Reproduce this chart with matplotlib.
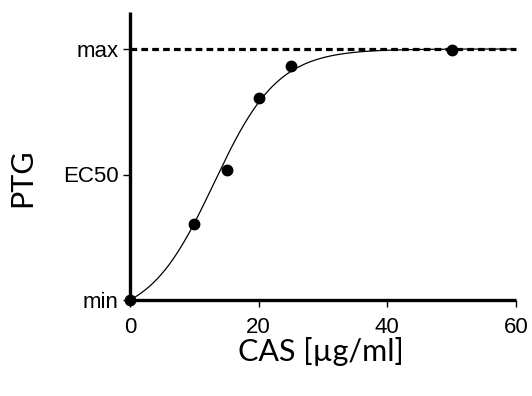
import numpy as np
import matplotlib.pyplot as plt

# measured response (normalised: 0 = min, 1 = max)
conc = [0, 10, 15, 20, 25, 50]
response = [0.0, 0.303, 0.518, 0.805, 0.932, 0.996]

# sigmoid fit parameters
x_mid = 13.0
slope = 5.0

y_ticks = [0.0, 0.5, 1.0]
y_ticklabels = ["min", "EC50", "max"]
x_ticks = [0, 20, 40, 60]


def sigmoid(x):
    base = 1.0 / (1.0 + np.exp(x_mid / slope))
    bottom = -base / (1.0 - base)
    return bottom + (1.0 - bottom) / (1.0 + np.exp(-(x - x_mid) / slope))


fig = plt.figure(figsize=(5.32, 3.96), dpi=100)
ax = fig.add_axes([130 / 532, 1 - 300 / 396, 386 / 532, 288 / 396])

xs = np.linspace(0, 60, 400)
ax.plot(xs, sigmoid(xs), color="black", lw=0.9, zorder=2)
ax.plot([0, 60], [1, 1], color="black", lw=2.3,
        linestyle=(0, (2.1, 1.3)), zorder=2, clip_on=False)
ax.plot(conc, response, "o", color="black", markersize=7.5,
        zorder=3, clip_on=False)

ax.set_xlim(0, 60)
ax.set_ylim(0, 288 / 251)

for side in ["top", "right"]:
    ax.spines[side].set_visible(False)
for side in ["left", "bottom"]:
    ax.spines[side].set_linewidth(2.4)
    ax.spines[side].set_capstyle("butt")

ax.set_xticks(x_ticks)
ax.set_xticklabels([str(t) for t in x_ticks], family="Liberation Sans", fontsize=16)
ax.set_yticks(y_ticks)
ax.set_yticklabels(y_ticklabels, family="Liberation Sans", fontsize=16)
ax.tick_params(axis="x", length=5, width=1, pad=7)
ax.tick_params(axis="y", length=5, width=1, pad=3)

ax.set_xlabel("CAS [µg/ml]", family="Lato", fontsize=22, va="center")
ax.xaxis.set_label_coords(0.495, -0.18)
ax.set_ylabel("PTG", family="Lato", fontsize=22, va="center")
ax.yaxis.set_label_coords(-0.28, 0.425)

fig.savefig("out.png", dpi=100)
